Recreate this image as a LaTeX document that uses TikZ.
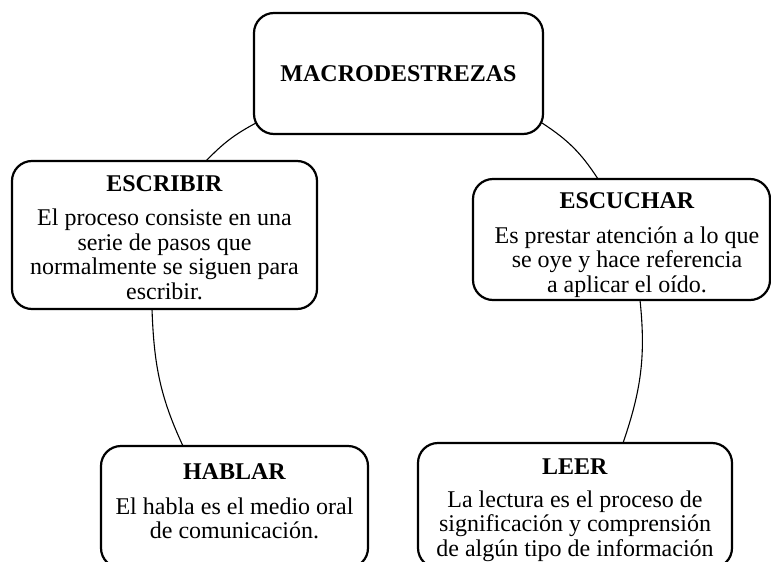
\documentclass[tikz,border=0pt]{standalone}
\usepackage{fontspec}
\setmainfont{Liberation Serif}
\usetikzlibrary{backgrounds}
\begin{document}
\begin{tikzpicture}[x=1pt,y=1pt,
  box/.style={draw, line width=2.2pt, rounded corners=20pt, fill=white, inner sep=0pt, outer sep=0pt},
  txt/.style={anchor=base, inner sep=0pt, font=\fontsize{24}{24.5}\selectfont},
  link/.style={line width=1.1pt}]
\useasboundingbox (0,0) rectangle (771,-562);
\node[box, minimum width=289pt, minimum height=121pt, font=\fontsize{24}{24.5}\selectfont\bfseries] (macro) at (398.5,-73.5) {MACRODESTREZAS};
\node[box, minimum width=305pt, minimum height=148pt] (escribir) at (164.5,-235) {};
\node[box, minimum width=297pt, minimum height=121pt] (escuchar) at (621.5,-239.5) {};
\node[box, minimum width=267pt, minimum height=122pt] (hablar) at (234.5,-507) {};
\node[box, minimum width=314pt, minimum height=125pt] (leer) at (575,-505.5) {};
\node[txt] (escribirt) at (164.5,-191.5) {\begin{tabular}[t]{@{}c@{}}\textbf{ESCRIBIR}\\[9.5pt] El proceso consiste en una\\ serie de pasos que\\ normalmente se siguen para\\ escribir.\end{tabular}};
\node[txt] (escuchart) at (627,-208) {\begin{tabular}[t]{@{}c@{}}\textbf{ESCUCHAR}\\[10.5pt] Es prestar atención a lo que\\ se oye y hace referencia\\ a aplicar el oído.\end{tabular}};
\node[txt] (hablart) at (234.5,-479) {\begin{tabular}[t]{@{}c@{}}\textbf{HABLAR}\\[10.5pt] El habla es el medio oral\\ de comunicación.\end{tabular}};
\node[txt] (leert) at (575,-474) {\begin{tabular}[t]{@{}c@{}}\textbf{LEER}\\[8.5pt] La lectura es el proceso de\\ significación y comprensión\\ de algún tipo de información\end{tabular}};
\begin{scope}[on background layer]
\draw[link] ([shift={(2,11)}]macro.south west) to[out=208,in=46] ([xshift=41.5]escribir.north);
\draw[link] ([shift={(-1,11)}]macro.south east) to[out=-33,in=123] ([xshift=-23.5]escuchar.north);
\draw[link] ([xshift=-12.5]escribir.south) to[out=-88,in=115] ([xshift=-51.5]hablar.north);
\draw[link] ([xshift=18.5]escuchar.south) to[out=-84,in=71] ([xshift=48]leer.north);
\end{scope}
\end{tikzpicture}
\end{document}
